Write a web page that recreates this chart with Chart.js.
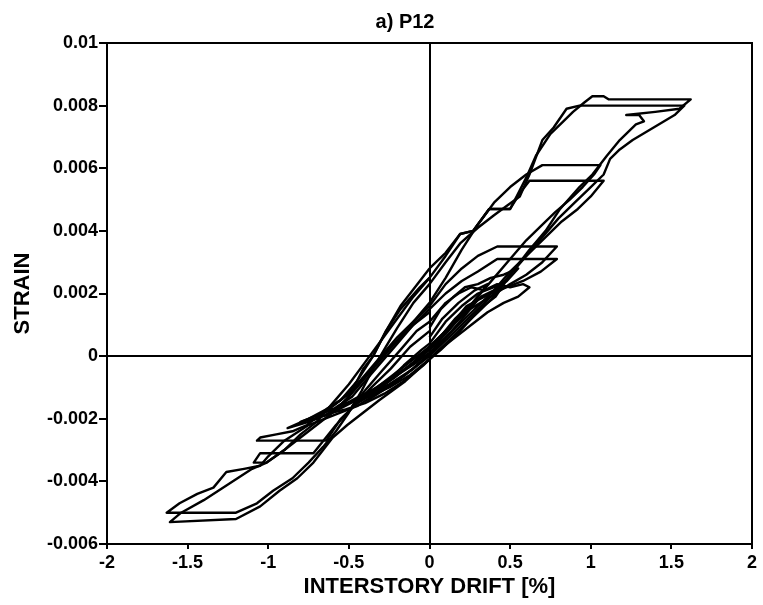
<!DOCTYPE html>
<html>
<head>
<meta charset="utf-8">
<title>a) P12</title>
<script src="https://cdn.jsdelivr.net/npm/chart.js@4/dist/chart.umd.min.js"></script>
<style>
  html, body { margin: 0; padding: 0; background: #fff; }
  #chart { display: block; }
</style>
</head>
<body>
<canvas id="chart" width="763" height="605"></canvas>
<script>
// Panel title and axis titles
const panelTitle = 'a) P12';
const driftTitle = 'INTERSTORY DRIFT [%]';
const strainTitle = 'STRAIN';

// Tick values and their printed labels
const driftTicks = [-2, -1.5, -1, -0.5, 0, 0.5, 1, 1.5, 2];
const driftTickLabels = ['-2', '-1.5', '-1', '-0.5', '0', '0.5', '1', '1.5', '2'];
const strainTicks = [-0.006, -0.004, -0.002, 0, 0.002, 0.004, 0.006, 0.008, 0.01];
const strainTickLabels = ['-0.006', '-0.004', '-0.002', '0', '0.002', '0.004', '0.006', '0.008', '0.01'];

// Load cycles: interstory drift [%] and measured strain, in recorded order
const cycle1Drift  = [0.00, 0.08, 0.16, 0.24, 0.30, 0.22, 0.12, 0.03, -0.08, -0.20, -0.32, -0.38, -0.28, -0.16, -0.05, 0.00];
const cycle1Strain = [0.0002, 0.0007, 0.0012, 0.0016, 0.0018, 0.0013, 0.0007, 0.0002, -0.0003, -0.0008, -0.0012, -0.0014, -0.0009, -0.0003, 0.0002, 0.0004];

const cycle2Drift  = [0.00, 0.10, 0.20, 0.30, 0.40, 0.47, 0.40, 0.30, 0.20, 0.10, 0.00, -0.12, -0.25, -0.38, -0.48, -0.40, -0.30, -0.18, -0.08, 0.00];
const cycle2Strain = [0.0004, 0.0011, 0.0016, 0.0020, 0.0022, 0.0024, 0.0019, 0.0014, 0.0009, 0.0004, -0.0001, -0.0006, -0.0010, -0.0013, -0.0016, -0.0011, -0.0005, 0.0002, 0.0008, 0.0011];

const cycle3Drift  = [0.00, 0.08, 0.18, 0.28, 0.36, 0.30, 0.20, 0.10, 0.00, -0.10, -0.22, -0.34, -0.45, -0.36, -0.24, -0.12, 0.00];
const cycle3Strain = [0.0006, 0.0012, 0.0017, 0.0021, 0.0023, 0.0019, 0.0013, 0.0008, 0.0003, -0.0002, -0.0007, -0.0011, -0.0015, -0.0010, -0.0004, 0.0003, 0.0008];

const cycle4Drift  = [0.00, 0.10, 0.18, 0.26, 0.34, 0.42, 0.50, 0.58, 0.62, 0.55, 0.46, 0.36, 0.26, 0.16, 0.06, -0.04, -0.16, -0.28, -0.40, -0.52, -0.60, -0.52, -0.44, -0.36, -0.26, -0.14, -0.04, 0.00];
const cycle4Strain = [0.0011, 0.0017, 0.0020, 0.0022, 0.0021, 0.0023, 0.0022, 0.0023, 0.0022, 0.0019, 0.0017, 0.0014, 0.0010, 0.0006, 0.0002, -0.0003, -0.0008, -0.0012, -0.0015, -0.0017, -0.0018, -0.0014, -0.0009, -0.0004, 0.0002, 0.0008, 0.0013, 0.0015];

const cycle5Drift  = [0.00, 0.07, 0.15, 0.22, 0.30, 0.38, 0.46, 0.55, 0.48, 0.40, 0.32, 0.22, 0.12, 0.03, -0.08, -0.20, -0.32, -0.44, -0.55, -0.65, -0.57, -0.48, -0.40, -0.30, -0.20, -0.10, 0.00];
const cycle5Strain = [0.0009, 0.0015, 0.0019, 0.0022, 0.0023, 0.0025, 0.0026, 0.0028, 0.0024, 0.0021, 0.0019, 0.0014, 0.0009, 0.0004, -0.0002, -0.0006, -0.0010, -0.0013, -0.0016, -0.0019, -0.0016, -0.0013, -0.0008, -0.0002, 0.0004, 0.0010, 0.0014];

const cycle6Drift  = [0.00, 0.10, 0.20, 0.30, 0.42, 0.79, 0.69, 0.58, 0.48, 0.38, 0.23, 0.12, 0.02, -0.10, -0.25, -0.40, -0.55, -0.70, -0.80, -0.70, -0.60, -0.50, -0.40, -0.30, -0.20, -0.10, 0.00];
const cycle6Strain = [0.0015, 0.0020, 0.0024, 0.0027, 0.0031, 0.0031, 0.0027, 0.0024, 0.0022, 0.0020, 0.0016, 0.0009, 0.0002, -0.0004, -0.0009, -0.0013, -0.0016, -0.0019, -0.0021, -0.0020, -0.0016, -0.0012, -0.0006, 0.0000, 0.0006, 0.0011, 0.0016];

const cycle7Drift  = [0.00, 0.10, 0.20, 0.30, 0.42, 0.79, 0.70, 0.60, 0.50, 0.38, 0.25, 0.12, 0.00, -0.15, -0.30, -0.45, -0.60, -0.75, -0.88, -0.75, -0.64, -0.55, -0.45, -0.35, -0.27, -0.18, -0.06, 0.00];
const cycle7Strain = [0.0016, 0.0023, 0.0028, 0.0032, 0.0035, 0.0035, 0.0030, 0.0026, 0.0023, 0.0019, 0.0015, 0.0009, 0.0003, -0.0003, -0.0009, -0.0014, -0.0018, -0.0021, -0.0023, -0.0020, -0.0017, -0.0014, -0.0008, 0.0000, 0.0008, 0.0015, 0.0022, 0.0025];

const cycle8Drift  = [0.00, 0.10, 0.19, 0.27, 0.37, 0.50, 0.56, 0.62, 1.08, 1.00, 0.92, 0.82, 0.72, 0.62, 0.50, 0.40, 0.30, 0.20, 0.10, 0.00, -0.15, -0.30, -0.45, -0.58, -0.72, -1.05, -1.09, -1.01, -0.90, -0.80, -0.70, -0.60, -0.50, -0.40, -0.30, -0.20, -0.10, 0.00];
const cycle8Strain = [0.0025, 0.0032, 0.0039, 0.0040, 0.0047, 0.0047, 0.0052, 0.0056, 0.0056, 0.0051, 0.0047, 0.0043, 0.0038, 0.0033, 0.0027, 0.0021, 0.0016, 0.0011, 0.0006, 0.0001, -0.0004, -0.0009, -0.0015, -0.0022, -0.0031, -0.0031, -0.0034, -0.0034, -0.0030, -0.0026, -0.0022, -0.0018, -0.0013, -0.0007, -0.0001, 0.0005, 0.0011, 0.0017];

const cycle9Drift  = [0.00, 0.10, 0.20, 0.30, 0.40, 0.50, 0.60, 0.70, 1.06, 1.02, 0.95, 0.87, 0.78, 0.70, 0.60, 0.50, 0.40, 0.30, 0.20, 0.10, 0.00, -0.15, -0.30, -0.45, -0.55, -0.64, -1.07, -1.05, -0.95, -0.85, -0.76, -0.64, -0.55, -0.49, -0.45, -0.41, -0.35, -0.31, -0.27, -0.18, -0.06, 0.00];
const cycle9Strain = [0.0017, 0.0025, 0.0034, 0.0042, 0.0049, 0.0054, 0.0058, 0.0061, 0.0061, 0.0058, 0.0054, 0.0050, 0.0046, 0.0042, 0.0037, 0.0031, 0.0025, 0.0019, 0.0013, 0.0007, 0.0002, -0.0004, -0.0010, -0.0015, -0.0020, -0.0027, -0.0027, -0.0026, -0.0025, -0.0024, -0.0022, -0.0017, -0.0014, -0.0011, -0.0008, -0.0004, 0.0000, 0.0004, 0.0008, 0.0016, 0.0024, 0.0028];

const cycle10Drift  = [0.00, 0.10, 0.19, 0.27, 0.37, 0.50, 0.54, 0.60, 0.66, 0.75, 0.83, 0.89, 0.96, 1.01, 1.08, 1.11, 1.62, 1.55, 1.40, 1.22, 1.30, 1.33, 1.28, 1.18, 1.10, 1.01, 0.93, 0.81, 0.72, 0.62, 0.50, 0.41, 0.31, 0.19, 0.07, 0.00, -0.15, -0.31, -0.41, -0.51, -0.60, -0.66, -0.72, -0.82, -0.93, -1.05, -1.20, -1.61, -1.54, -1.40, -1.25, -1.10, -1.01, -0.90, -0.80, -0.70, -0.60, -0.50, -0.40, -0.30, -0.20, -0.10, 0.00];
const cycle10Strain = [0.0028, 0.0033, 0.0039, 0.0040, 0.0047, 0.0047, 0.0051, 0.0057, 0.0064, 0.0071, 0.0075, 0.0078, 0.0081, 0.0083, 0.0083, 0.0082, 0.0082, 0.0079, 0.0078, 0.0077, 0.0077, 0.0075, 0.0074, 0.0069, 0.0064, 0.0058, 0.0054, 0.0047, 0.0040, 0.0034, 0.0026, 0.0019, 0.0015, 0.0008, 0.0002, -0.0001, -0.0008, -0.0014, -0.0018, -0.0022, -0.0026, -0.0030, -0.0034, -0.0039, -0.0043, -0.0048, -0.0052, -0.0053, -0.0050, -0.0046, -0.0041, -0.0036, -0.0034, -0.0030, -0.0025, -0.0021, -0.0015, -0.0009, -0.0002, 0.0005, 0.0012, 0.0019, 0.0025];

const cycle11Drift  = [0.00, 0.10, 0.19, 0.30, 0.40, 0.48, 0.56, 0.62, 0.70, 0.77, 0.85, 0.93, 0.99, 1.58, 1.52, 1.39, 1.26, 1.18, 1.12, 1.08, 1.00, 0.90, 0.80, 0.70, 0.60, 0.50, 0.40, 0.30, 0.20, 0.10, 0.00, -0.15, -0.30, -0.45, -0.60, -0.75, -0.90, -1.00, -1.05, -1.15, -1.26, -1.34, -1.44, -1.55, -1.63, -1.20, -1.07, -0.97, -0.85, -0.75, -0.66, -0.58, -0.50, -0.42, -0.35, -0.27, -0.20, -0.10, 0.00];
const cycle11Strain = [0.0023, 0.0030, 0.0036, 0.0041, 0.0045, 0.0048, 0.0051, 0.0058, 0.0069, 0.0073, 0.0079, 0.0080, 0.0080, 0.0080, 0.0077, 0.0073, 0.0069, 0.0066, 0.0063, 0.0058, 0.0054, 0.0049, 0.0044, 0.0038, 0.0032, 0.0026, 0.0020, 0.0015, 0.0010, 0.0005, 0.0000, -0.0006, -0.0011, -0.0016, -0.0019, -0.0022, -0.0027, -0.0032, -0.0035, -0.0036, -0.0037, -0.0042, -0.0044, -0.0047, -0.0050, -0.0050, -0.0047, -0.0043, -0.0039, -0.0034, -0.0029, -0.0024, -0.0018, -0.0011, -0.0004, 0.0003, 0.0009, 0.0017, 0.0023];

const cycles = [
  [cycle1Drift, cycle1Strain],
  [cycle2Drift, cycle2Strain],
  [cycle3Drift, cycle3Strain],
  [cycle4Drift, cycle4Strain],
  [cycle5Drift, cycle5Strain],
  [cycle6Drift, cycle6Strain],
  [cycle7Drift, cycle7Strain],
  [cycle8Drift, cycle8Strain],
  [cycle9Drift, cycle9Strain],
  [cycle10Drift, cycle10Strain],
  [cycle11Drift, cycle11Strain]
];

const FONT = '"Liberation Sans", Arial, Helvetica, sans-serif';
Chart.defaults.color = '#000';
Chart.defaults.font.family = FONT;

const datasets = cycles.map(([d, s], i) => ({
  label: 'Cycle ' + (i + 1),
  data: d.map((x, k) => ({ x: x, y: s[k] })),
  showLine: true,
  borderColor: '#000',
  borderWidth: 2.4,
  borderJoinStyle: 'round',
  pointRadius: 0,
  tension: 0,
  fill: false
}));

const isZero = v => Math.abs(v) < 1e-9;

// Closed frame around the plotting area plus the panel title
const framePlugin = {
  id: 'frame',
  afterDraw(chart) {
    const { ctx, chartArea: a } = chart;
    ctx.save();
    ctx.strokeStyle = '#000';
    ctx.lineWidth = 2;
    ctx.beginPath();
    ctx.moveTo(a.left, a.top);
    ctx.lineTo(a.right, a.top);
    ctx.lineTo(a.right, a.bottom);
    ctx.stroke();
    ctx.fillStyle = '#000';
    ctx.font = 'bold 20px ' + FONT;
    ctx.textAlign = 'center';
    ctx.textBaseline = 'middle';
    ctx.fillText(panelTitle, 405, 22);
    ctx.restore();
  }
};

new Chart(document.getElementById('chart'), {
  type: 'scatter',
  data: { datasets },
  plugins: [framePlugin],
  options: {
    responsive: false,
    animation: false,
    devicePixelRatio: 1,
    layout: { padding: { top: 43, right: 11, bottom: 0, left: 0 } },
    plugins: {
      legend: { display: false },
      tooltip: { enabled: false },
      title: { display: false }
    },
    scales: {
      x: {
        type: 'linear',
        min: driftTicks[0],
        max: driftTicks[driftTicks.length - 1],
        afterFit(scale) { scale.height = 61; },
        afterBuildTicks(scale) { scale.ticks = driftTicks.map(v => ({ value: v })); },
        ticks: {
          font: { size: 18, weight: 'bold' },
          padding: 3,
          maxRotation: 0,
          callback: (v) => driftTickLabels[driftTicks.findIndex(t => Math.abs(t - v) < 1e-9)]
        },
        grid: {
          drawOnChartArea: true,
          drawTicks: true,
          tickLength: 5,
          tickColor: '#000',
          tickWidth: 2,
          color: c => (c.tick && isZero(c.tick.value)) ? '#000' : 'rgba(0,0,0,0)',
          lineWidth: 2
        },
        border: { display: true, color: '#000', width: 2 },
        title: {
          display: true,
          text: driftTitle,
          font: { size: 22, weight: 'bold' },
          padding: { top: 0, bottom: 5 }
        }
      },
      y: {
        type: 'linear',
        min: strainTicks[0],
        max: strainTicks[strainTicks.length - 1],
        afterFit(scale) { scale.width = 107; },
        afterBuildTicks(scale) { scale.ticks = strainTicks.map(v => ({ value: v })); },
        ticks: {
          font: { size: 18, weight: 'bold' },
          padding: 1,
          callback: (v) => strainTickLabels[strainTicks.findIndex(t => Math.abs(t - v) < 1e-9)]
        },
        grid: {
          drawOnChartArea: true,
          drawTicks: true,
          tickLength: 8,
          tickColor: '#000',
          tickWidth: 2,
          color: c => (c.tick && isZero(c.tick.value)) ? '#000' : 'rgba(0,0,0,0)',
          lineWidth: 2
        },
        border: { display: true, color: '#000', width: 2 },
        title: {
          display: true,
          text: strainTitle,
          font: { size: 22, weight: 'bold' },
          padding: { top: 10, bottom: 0 }
        }
      }
    }
  }
});
</script>
</body>
</html>
